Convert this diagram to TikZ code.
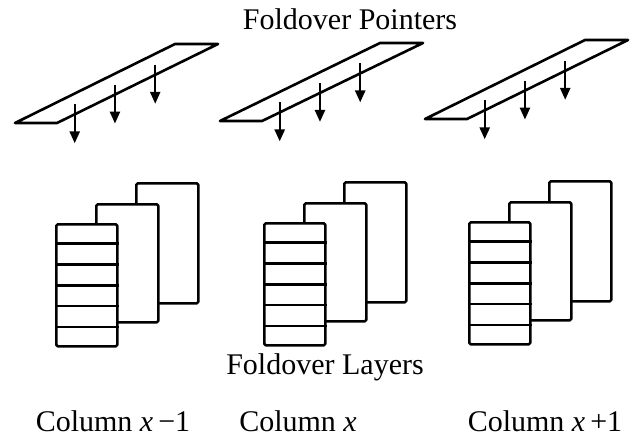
\documentclass[tikz,border=0pt]{standalone}
\usepackage{fontspec}
\setmainfont{Liberation Serif}
\usetikzlibrary{arrows.meta,calc}
\begin{document}
\begin{tikzpicture}[x=1pt,y=-1pt, line width=2.6pt, line join=round,
  sheet/.style={draw, fill=white, rounded corners=1.5pt, anchor=north west, inner sep=0pt},
  ptr/.style={-{Triangle[length=12pt,width=10pt]}, line width=2.4pt},
  lbl/.style={font=\fontsize{30}{34}\selectfont, inner sep=0pt, anchor=base}]
\useasboundingbox (0,0) rectangle (636,440);
% parallelograms (foldover pointers)
\foreach \i/\xo/\yb/\yt in {1/15/123/44, 2/220/121/43, 3/425/119/40}{
  \coordinate (a\i) at (\xo,\yb);
  \coordinate (b\i) at (\xo+42,\yb);
  \coordinate (c\i) at (\xo+203,\yt);
  \coordinate (d\i) at (\xo+160,\yt);
  \draw (a\i) -- (b\i) -- (c\i) -- (d\i) -- cycle;
  \foreach \t [count=\k] in {0.11,0.36,0.61}{
    \coordinate (e\i\k) at ($(b\i)!\t!(c\i)$);
    \coordinate (s\i\k) at ($(e\i\k)+(0,-10)$);
    \coordinate (t\i\k) at ($(e\i\k)+(0,29)$);
    \draw[ptr] (s\i\k) -- (t\i\k);
  }
}
% stacks (foldover layers)
\foreach \i/\xo/\yo in {1/55/223, 2/263/222, 3/468/221}{
  \node[sheet, minimum width=62pt, minimum height=120pt] (bk\i) at (\xo+80,\yo-41) {};
  \node[sheet, minimum width=62pt, minimum height=118pt] (md\i) at (\xo+40,\yo-20) {};
  \node[sheet, minimum width=61pt, minimum height=122pt] (fr\i) at (\xo,\yo) {};
  \foreach \k in {1,...,5}{
    \draw ($(fr\i.north west)!\k/6!(fr\i.south west)$) -- ($(fr\i.north east)!\k/6!(fr\i.south east)$);
  }
}
% labels
\node[lbl] (title) at (350,29) {Foldover Pointers};
\node[lbl] (layers) at (325,374) {Foldover Layers};
\node[lbl] (col1) at (113,431) {Column \textit{x}\,−1};
\node[lbl] (col2) at (298,431) {Column \textit{x}};
\node[lbl] (col3) at (545,431) {Column \textit{x}\,+1};
\end{tikzpicture}
\end{document}
